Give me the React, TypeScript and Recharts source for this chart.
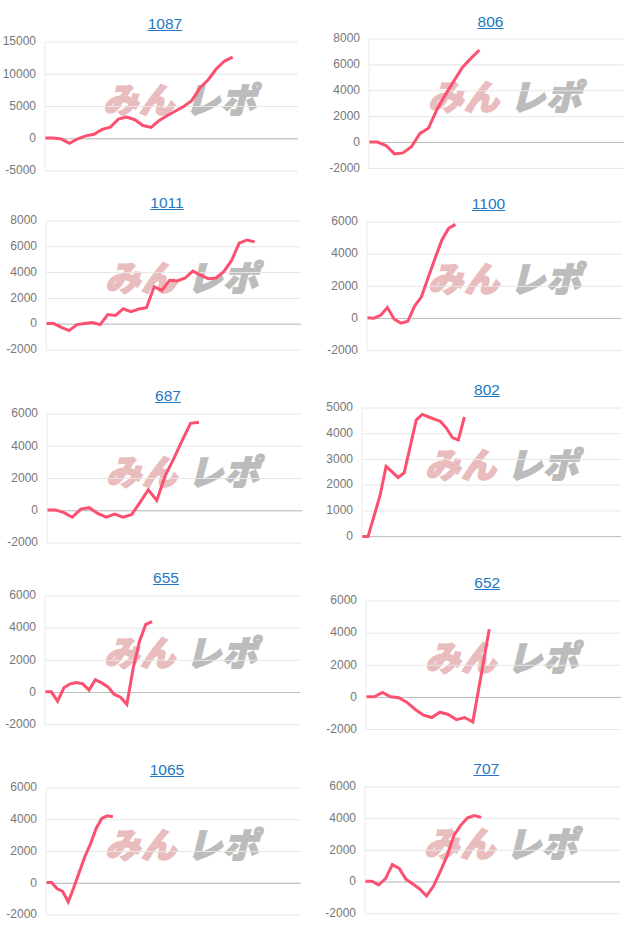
import React from "react";
import { LineChart, Line, XAxis, YAxis, CartesianGrid, ReferenceLine } from "recharts";

const v1087 = [100,100,-50,-700,0,450,700,1450,1800,3050,3350,2950,2050,1750,2850,3600,4300,5000,5950,7900,9150,10850,12050,12650];
const v806 = [30,30,-230,-880,-800,-330,700,1100,2550,3700,4750,5800,6500,7150];
const v1011 = [50,50,-250,-500,-30,60,130,-30,750,680,1200,980,1180,1280,2900,2620,3400,3350,3580,4120,3800,3530,3580,4070,4920,6280,6530,6380];
const v1100 = [40,20,200,680,-40,-290,-170,770,1350,2550,3730,4870,5600,5850];
const v687 = [50,50,-120,-400,100,190,-170,-400,-210,-400,-250,500,1300,640,2180,3220,4350,5420,5490];
const v802 = [0,0,800,1600,2730,2520,2300,2480,3500,4530,4750,4660,4570,4480,4220,3850,3760,4650];
const v655 = [40,40,-540,290,540,620,540,150,790,600,350,-120,-290,-740,1500,3180,4230,4400];
const v652 = [40,40,310,40,-20,-310,-750,-1100,-1250,-920,-1060,-1380,-1250,-1520,1350,4240];
const v1065 = [40,40,-350,-520,-1180,-250,730,1700,2500,3450,4080,4250,4190];
const v707 = [50,50,-190,210,1100,860,170,-130,-440,-880,-270,650,1650,2950,3580,4060,4200,4080];

const ticksA = [-5000,0,5000,10000,15000];
const ticksB = [-2000,0,2000,4000,6000,8000];
const ticksC = [-2000,0,2000,4000,6000];
const ticksD = [0,1000,2000,3000,4000,5000];

const charts = [
  { title:"1087", values:v1087, ticks:ticksA, slots:31,   x:45,    r:298,   t:41.5,  b:170.5, tx:165,   ty:24,  wx:103, wy:84 },
  { title:"806",  values:v806,  ticks:ticksB, slots:30,   x:369.3, r:624,   t:39.3,  b:168.7, tx:490.5, ty:22,  wx:428, wy:81 },
  { title:"1011", values:v1011, ticks:ticksB, slots:33,   x:46,    r:301,   t:220.7, b:349.7, tx:167,   ty:203, wx:105, wy:262 },
  { title:"1100", values:v1100, ticks:ticksC, slots:37.5, x:367.3, r:622.3, t:222,   b:350.7, tx:488.5, ty:204, wx:428, wy:263 },
  { title:"687",  values:v687,  ticks:ticksC, slots:30.2, x:47.3,  r:302.3, t:413.7, b:542.7, tx:168,   ty:396, wx:106, wy:456 },
  { title:"802",  values:v802,  ticks:ticksD, slots:43,   x:362,   r:621,   t:407.7, b:536.3, tx:487,   ty:390, wx:425, wy:449 },
  { title:"655",  values:v655,  ticks:ticksC, slots:40.5, x:45,    r:300,   t:596,   b:724.7, tx:166,   ty:578, wx:104, wy:637 },
  { title:"652",  values:v652,  ticks:ticksC, slots:31,   x:366.3, r:621,   t:600.7, b:729.3, tx:487.3, ty:583, wx:425, wy:642 },
  { title:"1065", values:v1065, ticks:ticksC, slots:45.7, x:46.3,  r:301,   t:788,   b:915,   tx:167,   ty:770, wx:105, wy:829 },
  { title:"707",  values:v707,  ticks:ticksC, slots:37.3, x:365,   r:620,   t:787.3, b:914,   tx:486.3, ty:769, wx:424, wy:828 },
];

const FONT = '"Liberation Sans", Arial, sans-serif';
const AXIS_W = 45;

function Watermark({ x, y }: { x: number; y: number }) {
  const base: React.CSSProperties = {
    position: "absolute",
    top: y - 10,
    fontFamily: '"Noto Sans CJK JP", sans-serif',
    fontWeight: 900,
    fontStyle: "italic",
    fontSize: 35,
    lineHeight: "48px",
    letterSpacing: 1,
    whiteSpace: "nowrap",
  };
  return (
    <>
      <span style={{ ...base, left: x, color: "#e9bcbe", WebkitTextStroke: "1.6px #e9bcbe" }}>みん</span>
      <span style={{ ...base, left: x + 82, color: "#bcbcbc", WebkitTextStroke: "1.6px #bcbcbc" }}>レポ</span>
    </>
  );
}

function Panel({ c }: { c: (typeof charts)[number] }) {
  const data = c.values.map((value, i) => ({ i, value }));
  const w = c.r - c.x;
  const h = c.b - c.t;
  const pad = 8;
  return (
    <>
      <Watermark x={c.wx} y={c.wy} />
      <div style={{ position: "absolute", left: c.tx - 60, width: 120, top: c.ty - 10, textAlign: "center", fontFamily: FONT, fontSize: 15.5, lineHeight: "20px", color: "#2278c4", textDecoration: "underline" }}>
        {c.title}
      </div>
      <div style={{ position: "absolute", left: c.x - AXIS_W, top: c.t - pad }}>
        <LineChart width={w + AXIS_W + pad} height={h + 2 * pad} data={data} margin={{ top: pad, right: pad, bottom: pad, left: 0 }}>
          <CartesianGrid horizontal vertical={false} stroke="#e6e6e6" />
          <XAxis dataKey="i" type="number" domain={[0, c.slots]} hide />
          <YAxis
            width={AXIS_W}
            type="number"
            domain={[c.ticks[0], c.ticks[c.ticks.length - 1]]}
            ticks={c.ticks}
            interval={0}
            tickLine={false}
            tickSize={0}
            tickMargin={9}
            axisLine={{ stroke: "#ececec" }}
            tick={{ fill: "#777777", fontSize: 12, fontFamily: FONT, dy: -1 }}
          />
          <ReferenceLine y={0} stroke="#bdbdbd" />
          <Line dataKey="value" type="linear" stroke="#fb5070" strokeWidth={3} dot={false} activeDot={false} isAnimationActive={false} />
        </LineChart>
      </div>
    </>
  );
}

export default function App() {
  return (
    <div style={{ position: "absolute", left: 0, top: 0, width: 640, height: 932, background: "#fff", overflow: "hidden" }}>
      {charts.map((c) => (
        <Panel key={c.title} c={c} />
      ))}
    </div>
  );
}
